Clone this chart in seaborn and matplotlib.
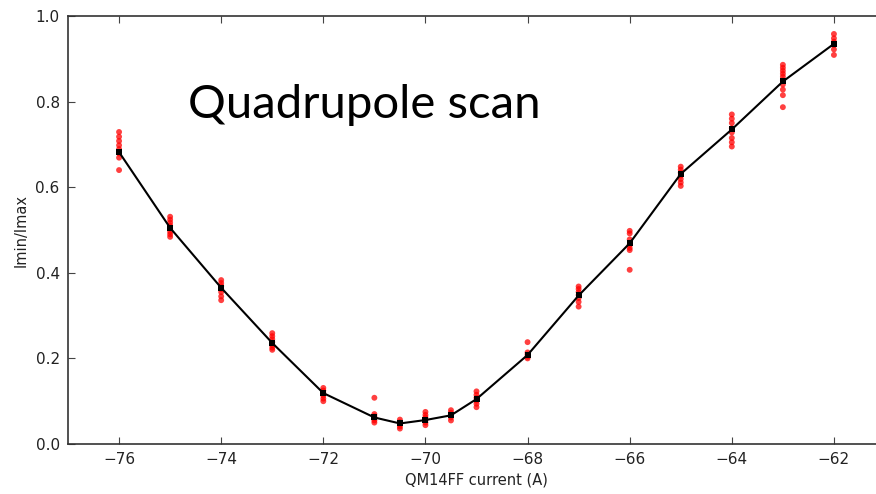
import matplotlib
matplotlib.use("Agg")
import matplotlib.pyplot as plt
import seaborn as sns
import pandas as pd

# ---- data ----
currents = [-76, -75, -74, -73, -72, -71, -70.5, -70, -69.5, -69, -68, -67, -66, -65, -64, -63, -62]

pts_m76 = [0.729, 0.718, 0.708, 0.698, 0.689, 0.679, 0.669, 0.640]
pts_m75 = [0.531, 0.524, 0.517, 0.510, 0.503, 0.496, 0.490, 0.484]
pts_m74 = [0.383, 0.376, 0.369, 0.362, 0.355, 0.345, 0.336]
pts_m73 = [0.259, 0.252, 0.245, 0.238, 0.231, 0.225, 0.220]
pts_m72 = [0.131, 0.125, 0.119, 0.113, 0.106, 0.100]
pts_m71 = [0.108, 0.070, 0.065, 0.060, 0.055, 0.050]
pts_m70_5 = [0.057, 0.051, 0.046, 0.041, 0.036]
pts_m70 = [0.075, 0.068, 0.062, 0.056, 0.050, 0.044]
pts_m69_5 = [0.079, 0.073, 0.068, 0.062, 0.055]
pts_m69 = [0.123, 0.115, 0.108, 0.101, 0.094, 0.086]
pts_m68 = [0.238, 0.214, 0.209, 0.204, 0.200]
pts_m67 = [0.368, 0.362, 0.355, 0.348, 0.341, 0.332, 0.321]
pts_m66 = [0.498, 0.492, 0.478, 0.465, 0.458, 0.453, 0.407]
pts_m65 = [0.648, 0.641, 0.634, 0.627, 0.619, 0.611, 0.603]
pts_m64 = [0.770, 0.760, 0.750, 0.738, 0.728, 0.715, 0.705, 0.695]
pts_m63 = [0.886, 0.879, 0.872, 0.865, 0.858, 0.850, 0.840, 0.828, 0.815, 0.787]
pts_m62 = [0.958, 0.948, 0.940, 0.932, 0.922, 0.909]

mean_ratio = [0.682, 0.505, 0.365, 0.236, 0.119, 0.062, 0.048, 0.056, 0.067,
              0.105, 0.208, 0.347, 0.469, 0.631, 0.735, 0.847, 0.935]

x_ticks = [-76, -74, -72, -70, -68, -66, -64, -62]
y_ticks = [0.0, 0.2, 0.4, 0.6, 0.8, 1.0]

all_pts = [pts_m76, pts_m75, pts_m74, pts_m73, pts_m72, pts_m71, pts_m70_5, pts_m70,
           pts_m69_5, pts_m69, pts_m68, pts_m67, pts_m66, pts_m65, pts_m64, pts_m63, pts_m62]

rows = []
for c, vals in zip(currents, all_pts):
    for v in vals:
        rows.append({"current": c, "ratio": v})
df_pts = pd.DataFrame(rows)
df_mean = pd.DataFrame({"current": currents, "ratio": mean_ratio})

# ---- plot ----
sns.set_style("white")
plt.rcParams["font.family"] = ["DejaVu Sans"]

fig = plt.figure(figsize=(8.76, 4.94), dpi=100)
ax = fig.add_axes([68 / 876, 50 / 494, 817 / 876, 428 / 494])

sns.scatterplot(data=df_pts, x="current", y="ratio", ax=ax, color="red",
                alpha=0.75, s=18, edgecolor="none", linewidth=0, zorder=2)
sns.lineplot(data=df_mean, x="current", y="ratio", ax=ax, color="black",
             linewidth=1.5, marker="s", markersize=4, markeredgewidth=0, zorder=3)

ax.set_xlim(-77, -61)
ax.set_ylim(0.0, 1.0)
ax.set_xticks(x_ticks)
ax.set_xticklabels([f"\u2212{abs(t)}" for t in x_ticks])
ax.set_yticks(y_ticks)
ax.set_yticklabels([f"{t:.1f}" for t in y_ticks])
ax.tick_params(direction="in", length=5, width=0.8, colors="#444444",
               labelcolor="#222222", labelsize=11, top=True, right=True,
               bottom=True, left=True, pad=6)
for sp in ax.spines.values():
    sp.set_visible(True)
    sp.set_color("#333333")
    sp.set_linewidth(1.2)

ax.set_xlabel("QM14FF current (A)", fontsize=10.5, color="#222222", labelpad=4)
ax.set_ylabel("Imin/Imax", fontsize=10.5, color="#222222", labelpad=5)

fig.text(188 / 876, 1 - 118 / 494, "Quadrupole scan", fontsize=34,
         family="Lato", color="black", ha="left", va="baseline")

fig.savefig("out.png", dpi=100)
